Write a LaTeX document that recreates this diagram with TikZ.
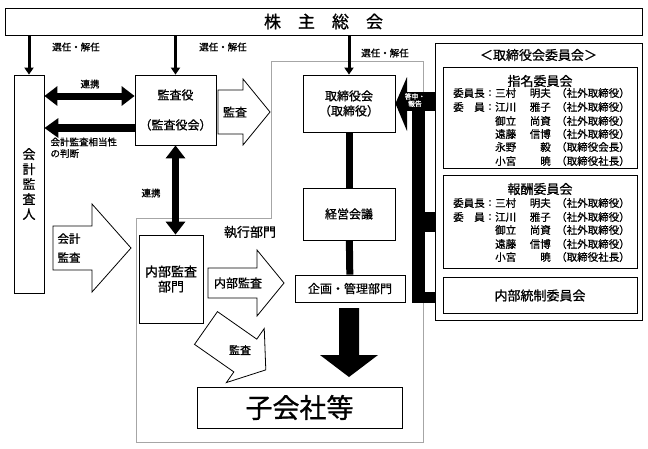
\documentclass[tikz,border=0pt]{standalone}
\usepackage{fontspec}
\setmainfont{Noto Sans CJK JP}[UprightFeatures={FakeBold=0.9}]
\usepackage{tikz}
\usetikzlibrary{arrows.meta,calc,positioning}

\tikzset{
  box/.style={draw, line width=0.8pt, fill=white, align=center, inner sep=0pt},
  lbltiny/.style={font=\fontsize{6.8}{7.2}\selectfont},
  lblsm/.style={font=\fontsize{9.5}{11.5}\selectfont},
  lblmem/.style={font=\fontsize{10.5}{12}\selectfont, inner sep=0pt},
  lblmd/.style={font=\fontsize{12}{15}\selectfont},
  lblbig/.style={font=\fontsize{13}{15}\selectfont},
  selarrow/.style={line width=3pt, -{Triangle[length=7pt,width=9pt]}},
  linkarrow/.style={line width=7pt, {Triangle[length=13pt,width=19pt]}-{Triangle[length=13pt,width=19pt]}},
  judgearrow/.style={line width=8pt, -{Triangle[length=14pt,width=19pt]}},
  pics/blockarrow/.style n args={4}{code={
    \draw[line width=0.8pt, fill=white] (0,-#3) -- (#1,-#3) -- (#1,-#4) -- (#2,0)
      -- (#1,#4) -- (#1,#3) -- (0,#3) -- cycle;}},
}

\begin{document}
\begin{tikzpicture}[x=1pt,y=-1pt]
  \useasboundingbox (0,0) rectangle (648,448);
  % executive area
  \draw[gray!70, line width=0.6pt] (271,61) -- (423,61) -- (423,442) -- (136,442) -- (136,218) -- (271,218) -- cycle;
  \node[lblbig] (shikkou) at (250,232) {執行部門};

  % main boxes
  \node[box, minimum width=637, minimum height=27, font=\fontsize{17}{17}\selectfont] (soukai) at (323.5,21.5)
    {株\hspace{1em}主\hspace{1em}総\hspace{1em}会};
  \node[box, minimum width=30, minimum height=218, font=\fontsize{13}{15}\selectfont] (kaikei) at (29,184)
    {会\\計\\監\\査\\人};
  \node[box, minimum width=81, minimum height=70, lblmd] (kansayaku) at (175.5,110)
    {監査役\\[15pt]（監査役会）};
  \node[box, minimum width=92, minimum height=57, lblmd] (torishimari) at (349,103.5)
    {取締役会\\（取締役）};
  \node[box, minimum width=92, minimum height=52, lblmd] (keiei) at (349,214) {経営会議};
  \node[box, minimum width=110, minimum height=27, lblmd] (kikaku) at (350,288.5) {企画・管理部門};
  \node[box, minimum width=64, minimum height=88, lblbig] (naibu) at (171,279) {内部監査\\部門};
  \node[box, minimum width=205, minimum height=41, font=\fontsize{27}{27}\selectfont] (kogaisha) at (299.5,407.5)
    {子会社等};

  % committees
  \node[box, minimum width=207, minimum height=277] (iinkai) at (538.5,181.5) {};
  \node[lblbig] (iinkai-t) at (538.5,55) {＜取締役会委員会＞};
  \node[box, minimum width=194, minimum height=101] (shimei) at (540,117.5) {};
  \node[lblbig] (shimei-t) at (540,81) {指名委員会};
  \node[box, minimum width=194, minimum height=93] (houshu) at (540,221.5) {};
  \node[lblbig] (houshu-t) at (540,189) {報酬委員会};
  \node[box, minimum width=194, minimum height=36, lblbig] (tousei) at (540,295.5) {内部統制委員会};

  % members
  \node[lblmem, anchor=west] (sm-p1) at (453,93) {委員長};
  \node[lblmem, anchor=west] (sm-p2) at (453,107) {委\hspace{1em}員};
  \node[lblmem] (sm-c1) at (490,93) {:};
  \node[lblmem] (sm-c2) at (490,107) {:};
  \foreach \y/\sur/\given/\role [count=\i] in {93/三村/明夫/社外取締役, 107/江川/雅子/社外取締役,
      121/御立/尚資/社外取締役, 134/遠藤/信博/社外取締役, 147/永野/毅/取締役会長, 161/小宮/暁/取締役社長} {
    \node[lblmem, anchor=west] (sm-s\i) at (495,\y) {\sur};
    \node[lblmem, anchor=east] (sm-g\i) at (551,\y) {\given};
    \node[lblmem, anchor=west] (sm-r\i) at (556,\y) {（\role）};
  }
  \node[lblmem, anchor=west] (hs-p1) at (453,203) {委員長};
  \node[lblmem, anchor=west] (hs-p2) at (453,217) {委\hspace{1em}員};
  \node[lblmem] (hs-c1) at (490,203) {:};
  \node[lblmem] (hs-c2) at (490,217) {:};
  \foreach \y/\sur/\given/\role [count=\i] in {203/三村/明夫/社外取締役, 217/江川/雅子/社外取締役,
      230/御立/尚資/社外取締役, 244/遠藤/信博/社外取締役, 257/小宮/暁/取締役社長} {
    \node[lblmem, anchor=west] (hs-s\i) at (495,\y) {\sur};
    \node[lblmem, anchor=east] (hs-g\i) at (551,\y) {\given};
    \node[lblmem, anchor=west] (hs-r\i) at (556,\y) {（\role）};
  }

  % election / dismissal
  \draw[selarrow] (soukai.south -| kaikei) -- (kaikei.north);
  \draw[selarrow] (soukai.south -| kansayaku) -- (kansayaku.north);
  \draw[selarrow] (soukai.south -| torishimari) -- (torishimari.north);
  \node[lblsm] (sen1) at (76,47) {選任・解任};
  \node[lblsm] (sen2) at (223,47) {選任・解任};
  \node[lblsm] (sen3) at (385,53) {選任・解任};

  % cooperation and judgement
  \coordinate (r1) at (0,96);
  \coordinate (r2) at (0,128);
  \draw[linkarrow] (kaikei.east |- r1) -- (kansayaku.west |- r1);
  \node[lblsm] (renkei1) at (90,84) {連携};
  \draw[judgearrow] (kansayaku.west |- r2) -- (kaikei.east |- r2);
  \node[lblsm, anchor=north west, align=left] (soutou) at (47,134) {会計監査相当性\\の判断};
  \draw[linkarrow] (kansayaku.south) -- (kansayaku.south |- naibu.north);
  \node[lblsm] (renkei2) at (151,193) {連携};

  % execution line
  \draw[line width=7pt] (torishimari) -- (keiei);
  \draw[line width=7pt] (keiei) -- (kikaku);
  \fill (339,308) -- (359,308) -- (359,355) -- (378,355) -- (349,377) -- (320,355) -- (339,355) -- cycle;

  % audit arrows
  \pic at (218,112) {blockarrow={25}{52}{22}{33}};
  \node[lblmd] (kansa1) at (235,112) {監査};
  \pic at (53,248) {blockarrow={39}{78}{22}{44}};
  \node[font=\fontsize{11.5}{19}\selectfont, align=center] (kaikeikansa) at (69,248) {会計\\監査};
  \pic at (208,283) {blockarrow={49}{76}{15}{33}};
  \node[lblmd] (naibukansa) at (238,283) {内部監査};
  \pic[rotate=-35] at (206,328) {blockarrow={48}{73}{20}{33}};
  \node[font=\fontsize{11}{12}\selectfont] (kansa2) at (240,350) {監査};

  % reports from committees
  \fill (torishimari.east) -- (407,77) -- (407,131) -- cycle;
  \fill (407,92) rectangle (435,111);
  \fill (412,92) rectangle (425,303);
  \fill (425,212) rectangle (435,232);
  \fill (425,292) rectangle (435,303);
  \node[lbltiny, white, align=center, inner sep=0pt] (toushin) at (415,100) {答申・\\報告};
\end{tikzpicture}
\end{document}
